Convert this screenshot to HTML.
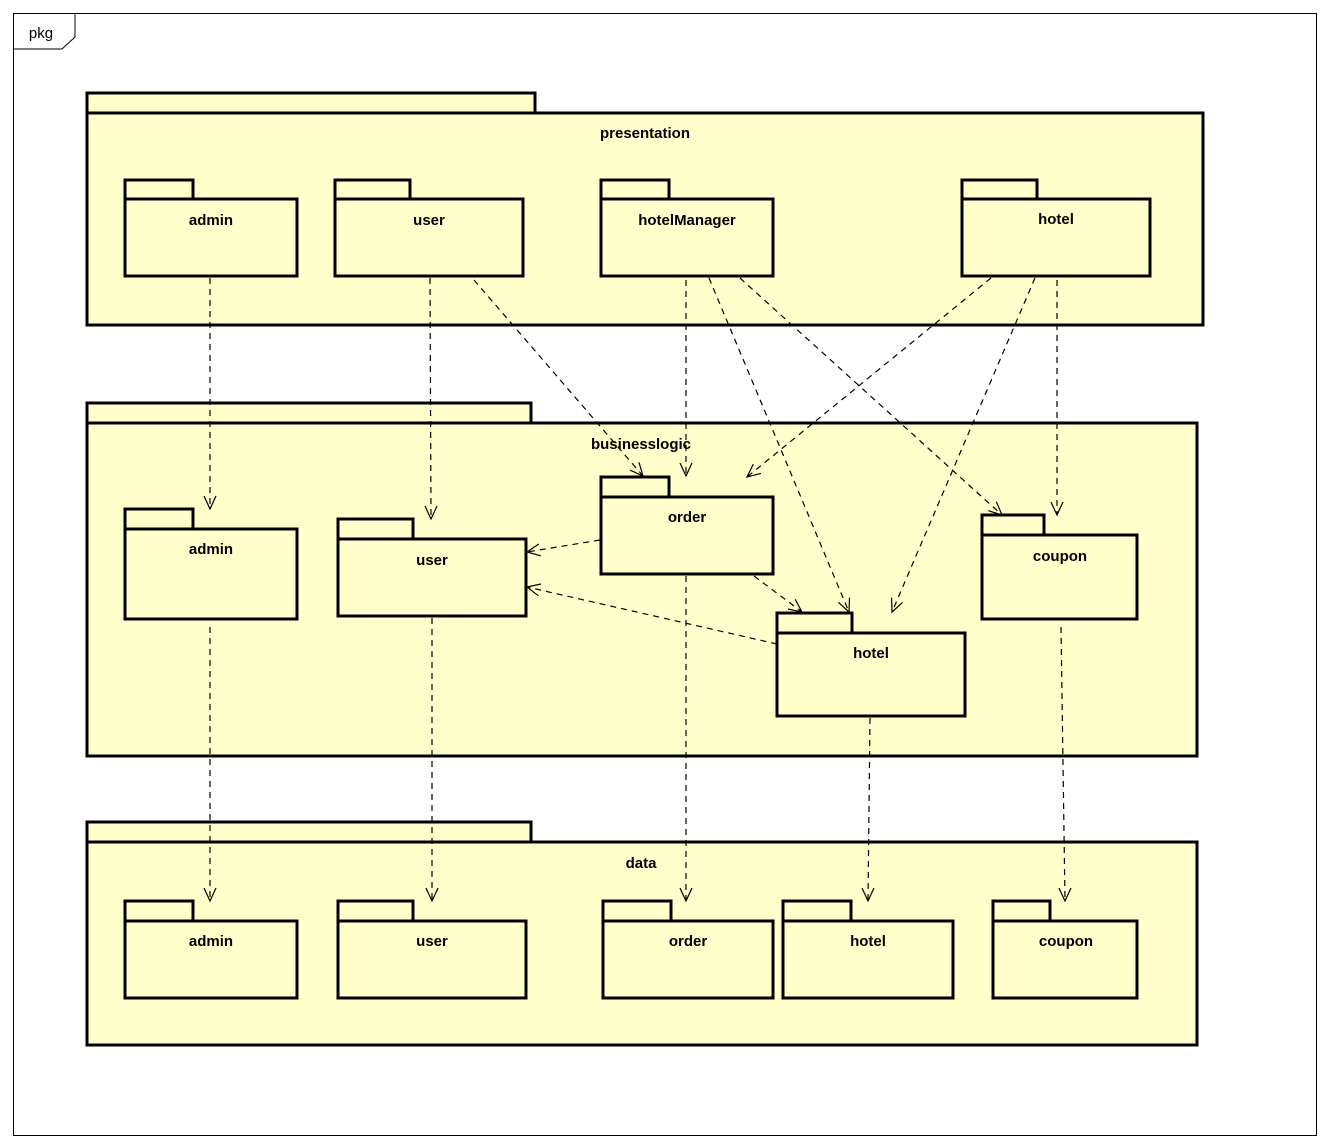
<!DOCTYPE html>
<html><head><meta charset="utf-8"><style>
html,body{margin:0;padding:0;background:#fff;}
svg{display:block;}
text{font-family:"Liberation Sans",Arial,sans-serif;font-size:15px;font-weight:bold;fill:#000;text-anchor:middle;}
.p{fill:#ffffcc;stroke:#000;stroke-width:3;}
line{stroke:#000;stroke-width:1.2;stroke-dasharray:6,5;fill:none;}
polyline{stroke:#000;stroke-width:1.2;fill:none;}
</style></head><body>
<svg width="1329" height="1148" viewBox="0 0 1329 1148" xmlns="http://www.w3.org/2000/svg">
<rect x="0" y="0" width="1329" height="1148" fill="#fff"/>
<rect x="13.5" y="13.5" width="1303" height="1122" fill="#fff" stroke="#000" stroke-width="1"/>
<polygon points="13.5,13.5 75,13.5 75,37 62,49 13.5,49" fill="#fff" stroke="#000" stroke-width="1"/>
<text x="41" y="38" style="font-weight:normal">pkg</text>

<rect class="p" x="87" y="93" width="448" height="20"/>
<rect class="p" x="87" y="113" width="1116" height="212"/>
<text x="645" y="138">presentation</text>
<rect class="p" x="125" y="180" width="68" height="19"/><rect class="p" x="125" y="199" width="172" height="77"/><text x="211" y="225">admin</text>
<rect class="p" x="335" y="180" width="75" height="19"/><rect class="p" x="335" y="199" width="188" height="77"/><text x="429" y="225">user</text>
<rect class="p" x="601" y="180" width="68" height="19"/><rect class="p" x="601" y="199" width="172" height="77"/><text x="687" y="225">hotelManager</text>
<rect class="p" x="962" y="180" width="75" height="19"/><rect class="p" x="962" y="199" width="188" height="77"/><text x="1056" y="224">hotel</text>

<rect class="p" x="87" y="403" width="444" height="20"/>
<rect class="p" x="87" y="423" width="1110" height="333"/>
<text x="641" y="449">businesslogic</text>
<rect class="p" x="125" y="509" width="68" height="20"/><rect class="p" x="125" y="529" width="172" height="90"/><text x="211" y="554">admin</text>
<rect class="p" x="338" y="519" width="75" height="20"/><rect class="p" x="338" y="539" width="188" height="77"/><text x="432" y="565">user</text>
<rect class="p" x="601" y="477" width="68" height="20"/><rect class="p" x="601" y="497" width="172" height="77"/><text x="687" y="522">order</text>
<rect class="p" x="777" y="613" width="75" height="20"/><rect class="p" x="777" y="633" width="188" height="83"/><text x="871" y="658">hotel</text>
<rect class="p" x="982" y="515" width="62" height="20"/><rect class="p" x="982" y="535" width="155" height="84"/><text x="1060" y="561">coupon</text>

<rect class="p" x="87" y="822" width="444" height="20"/>
<rect class="p" x="87" y="842" width="1110" height="203"/>
<text x="641" y="868">data</text>
<rect class="p" x="125" y="901" width="68" height="20"/><rect class="p" x="125" y="921" width="172" height="77"/><text x="211" y="946">admin</text>
<rect class="p" x="338" y="901" width="75" height="20"/><rect class="p" x="338" y="921" width="188" height="77"/><text x="432" y="946">user</text>
<rect class="p" x="603" y="901" width="68" height="20"/><rect class="p" x="603" y="921" width="170" height="77"/><text x="688" y="946">order</text>
<rect class="p" x="783" y="901" width="68" height="20"/><rect class="p" x="783" y="921" width="170" height="77"/><text x="868" y="946">hotel</text>
<rect class="p" x="993" y="901" width="57" height="20"/><rect class="p" x="993" y="921" width="144" height="77"/><text x="1066" y="946">coupon</text>

<line x1="210" y1="278" x2="210" y2="509"/><polyline points="204,496 210,509 216,496"/>
<line x1="430" y1="278" x2="431" y2="519"/><polyline points="425,506 431,519 437,506"/>
<line x1="474" y1="280" x2="643" y2="476"/><polyline points="630,470.1 643,476 639,462.3"/>
<line x1="686" y1="280" x2="686" y2="476"/><polyline points="680,463 686,476 692,463"/>
<line x1="709" y1="278" x2="849" y2="612"/><polyline points="838.4,602.3 849,612 849.5,597.7"/>
<line x1="740" y1="278" x2="1002" y2="515"/><polyline points="988.3,510.7 1002,515 996.4,501.8"/>
<line x1="991" y1="278" x2="747" y2="477"/><polyline points="753.3,464.1 747,477 760.9,473.4"/>
<line x1="1035" y1="278" x2="892" y2="612"/><polyline points="891.6,597.7 892,612 902.6,602.4"/>
<line x1="1057" y1="280" x2="1057" y2="515"/><polyline points="1051,502 1057,515 1063,502"/>
<line x1="600" y1="540" x2="527" y2="552"/><polyline points="538.8,544 527,552 540.8,555.8"/>
<line x1="754" y1="576" x2="802" y2="612"/><polyline points="788,609 802,612 795.2,599.4"/>
<line x1="777" y1="644" x2="527" y2="587"/><polyline points="541,584 527,587 538.4,595.8"/>
<line x1="210" y1="627" x2="210" y2="901"/><polyline points="204,888 210,901 216,888"/>
<line x1="432" y1="618" x2="432" y2="901"/><polyline points="426,888 432,901 438,888"/>
<line x1="686" y1="576" x2="686" y2="901"/><polyline points="680,888 686,901 692,888"/>
<line x1="870" y1="718" x2="868" y2="901"/><polyline points="862,888 868,901 874,888"/>
<line x1="1061" y1="627" x2="1065" y2="901"/><polyline points="1059,888 1065,901 1071,888"/>
</svg>
</body></html>
